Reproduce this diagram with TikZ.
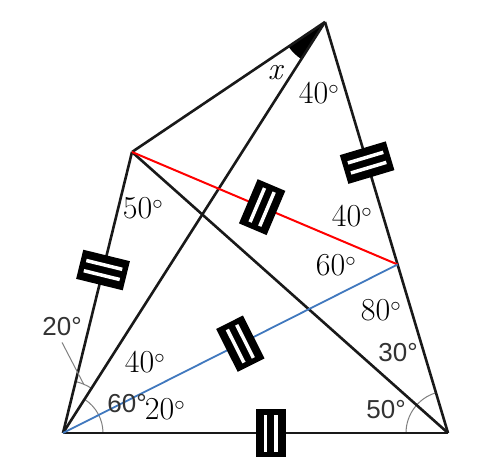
\documentclass[tikz,border=0pt]{standalone}
\usepackage{fontspec}
\newfontfamily\labelsans{Liberation Sans}
\usetikzlibrary{calc}
\definecolor{lineblue}{RGB}{64,120,190}

\begin{document}
\begin{tikzpicture}[x=1pt, y=1pt, line join=round,
  seg/.style={line width=2.6pt, black!90},
  redseg/.style={line width=2pt, red},
  blueseg/.style={line width=1.8pt, lineblue},
  arcmark/.style={line width=1pt, gray},
  deg/.style={font=\fontsize{32}{34}\selectfont, inner sep=0pt},
  sdeg/.style={font=\labelsans\fontsize{26}{28}\selectfont, text=black!80, inner sep=0pt},
  eqmark/.pic={
    \fill[black] (-15,-24) rectangle (15,24);
    \fill[white] (-7,-18.5) rectangle (-3.5,18.5);
    \fill[white] (3.5,-18.5) rectangle (7,18.5);
  }]
  \fill[white] (0,0) rectangle (502,468);
  \useasboundingbox (0,0) rectangle (502,468);

  \coordinate (A) at (63,35);
  \coordinate (B) at (448,35);
  \coordinate (T) at (325,446);
  \coordinate (P) at (132,316);
  \coordinate (Q) at ($(T)!0.59!(B)$);

  % angle marks
  \fill (T) -- ++(214:44) arc[start angle=214, end angle=237.5, radius=44] -- cycle;
  \draw[arcmark] ($(A)+(40,0)$) arc[start angle=0, end angle=57.5, radius=40];
  \draw[arcmark] ($(A)+(57.5:53)$) arc[start angle=57.5, end angle=76.2, radius=53];
  \draw[arcmark] ($(B)+(106.7:42)$) arc[start angle=106.7, end angle=180, radius=42];
  \coordinate (lead) at ($(A)+(67:53)$);

  % sides
  \draw[seg] (A) -- (B);
  \draw[seg] (A) -- (P);
  \draw[seg] (P) -- (T);
  \draw[seg] (T) -- (B);
  \draw[seg] (A) -- (T);
  \draw[seg] (P) -- (B);
  \draw[redseg] (P) -- (Q);
  \draw[blueseg] (A) -- (Q);

  % equal marks
  \path (A) -- (P) pic[pos=0.58, sloped]{eqmark};
  \path (P) -- (Q) pic[pos=0.49, sloped]{eqmark};
  \path (T) -- (Q) pic[pos=0.58, sloped]{eqmark};
  \path (A) -- (Q) pic[pos=0.53, sloped]{eqmark};
  \path (A) -- (B) pic[pos=0.54, sloped]{eqmark};

  % labels
  \node[deg] (ax) at (275,395) {\itshape x};
  \node[deg] (t40) at (319,375) {40$^\circ$};
  \node[deg] (p50) at (143,260) {50$^\circ$};
  \node[deg] (r40) at (352,252) {40$^\circ$};
  \node[deg] (r60) at (336,203) {60$^\circ$};
  \node[deg] (r80) at (381,158) {80$^\circ$};
  \node[deg] (a40) at (145,106) {40$^\circ$};
  \node[deg] (a20) at (165,59) {20$^\circ$};
  \node[sdeg] (s30) at (398,115) {30°};
  \node[sdeg] (s50) at (386,58) {50°};
  \node[sdeg] (s60) at (127,64) {60°};
  \node[sdeg] (s20) at (62,141) {20°};
  \draw[arcmark] ([yshift=-6pt]s20.south) -- (lead);
\end{tikzpicture}
\end{document}
